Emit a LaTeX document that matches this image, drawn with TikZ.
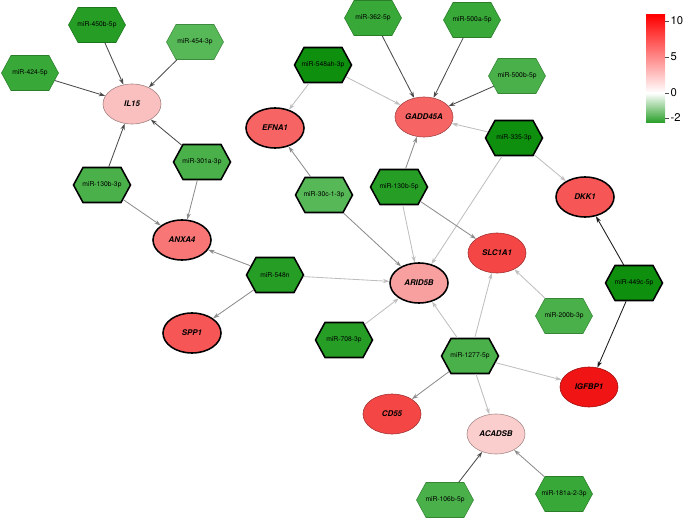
\documentclass[tikz,border=0pt]{standalone}
\usepackage{fontspec}
\setmainfont{TeX Gyre Heros}
\usepackage{xcolor}
\definecolor{mirlight}{RGB}{86,184,86}
\definecolor{mirpale}{RGB}{74,177,74}
\definecolor{mirmid}{RGB}{56,168,56}
\definecolor{mirgreen}{RGB}{38,158,38}
\definecolor{mirdark}{RGB}{14,143,14}
\definecolor{genepale}{RGB}{251,206,206}
\definecolor{genepink}{RGB}{250,192,192}
\definecolor{generose}{RGB}{248,160,160}
\definecolor{genesalmon}{RGB}{248,118,118}
\definecolor{genecoral}{RGB}{247,100,100}
\definecolor{genered}{RGB}{246,86,86}
\definecolor{genedeep}{RGB}{245,70,70}
\definecolor{genefull}{RGB}{240,20,20}
\definecolor{edgeblack}{RGB}{25,25,25}
\definecolor{edgedark}{RGB}{75,75,75}
\definecolor{edgemid}{RGB}{140,140,140}
\definecolor{edgelight}{RGB}{190,190,190}
\usepackage{tikz}
\usetikzlibrary{arrows.meta, shapes.geometric, shapes.symbols}

\begin{document}
\begin{tikzpicture}[x=0.025cm, y=-0.025cm,
  hex/.style={signal, signal to=east and west, signal pointer angle=123,
    minimum width=1.425cm, minimum height=0.875cm, inner xsep=-5pt, inner ysep=1pt,
    font=\fontsize{4.8}{5}\selectfont, fill=#1, draw=#1!75!black, line width=0.4pt},
  hexbold/.style={hex=#1, draw=black, line width=1.1pt},
  gene/.style={ellipse, minimum width=1.45cm, minimum height=1.0cm, inner sep=1pt,
    font=\fontsize{5.6}{6}\selectfont\bfseries\itshape, fill=#1, draw=#1!65!black, line width=0.4pt},
  genebold/.style={gene=#1, draw=black, line width=1.1pt},
  link/.style={-{Stealth[length=4.5pt,width=3pt]}, line width=0.6pt, draw=#1}]

  \useasboundingbox (0,0) rectangle (685,519);

  % --- Genes ---
  \node[gene=genepink]       (il15)    at (132,104) {IL15};
  \node[genebold=genecoral]  (efna1)   at (275,128) {EFNA1};
  \node[gene=genecoral]      (gadd45a) at (424,117) {GADD45A};
  \node[genebold=genesalmon] (anxa4)   at (182,240) {ANXA4};
  \node[genebold=genered]    (spp1)    at (192,333) {SPP1};
  \node[genebold=generose]   (arid5b)  at (419,283) {ARID5B};
  \node[genebold=genered]    (dkk1)    at (585,197) {DKK1};
  \node[gene=genedeep]       (slc1a1)  at (497,253) {SLC1A1};
  \node[gene=genefull]       (igfbp1)  at (589,387) {IGFBP1};
  \node[gene=genedeep]       (cd55)    at (392,414) {CD55};
  \node[gene=genepale]       (acadsb)  at (496,434) {ACADSB};

  % --- miRNAs ---
  \node[hex=mirgreen]      (m450b)  at (97,25)   {miR-450b-5p};
  \node[hex=mirlight]      (m454)   at (195,42)  {miR-454-3p};
  \node[hex=mirmid]        (m424)   at (30,73)   {miR-424-5p};
  \node[hexbold=mirpale]   (m301a)  at (202,162) {miR-301a-3p};
  \node[hexbold=mirpale]   (m130b3) at (102,185) {miR-130b-3p};
  \node[hexbold=mirdark]   (m548ah) at (323,65)  {miR-548ah-3p};
  \node[hex=mirmid]        (m362)   at (373,18)  {miR-362-5p};
  \node[hex=mirmid]        (m500a)  at (472,20)  {miR-500a-5p};
  \node[hex=mirpale]       (m500b)  at (517,76)  {miR-500b-5p};
  \node[hexbold=mirdark]   (m335)   at (514,138) {miR-335-3p};
  \node[hexbold=mirlight]  (m30c)   at (324,195) {miR-30c-1-3p};
  \node[hexbold=mirgreen]  (m130b5) at (399,187) {miR-130b-5p};
  \node[hexbold=mirgreen]  (m548n)  at (275,275) {miR-548n};
  \node[hexbold=mirgreen]  (m708)   at (344,340) {miR-708-3p};
  \node[hexbold=mirdark]   (m449c)  at (634,283) {miR-449c-5p};
  \node[hex=mirpale]       (m200b)  at (564,316) {miR-200b-3p};
  \node[hexbold=mirpale]   (m1277)  at (470,356) {miR-1277-5p};
  \node[hex=mirmid]        (m181a)  at (564,494) {miR-181a-2-3p};
  \node[hex=mirpale]       (m106b)  at (445,500) {miR-106b-5p};

  % --- Targets ---
  \draw[link=edgedark] (m450b) -- (il15);
  \draw[link=edgedark] (m454) -- (il15);
  \draw[link=edgedark] (m424) -- (il15);
  \draw[link=edgedark] (m130b3) -- (il15);
  \draw[link=edgedark] (m301a) -- (il15);
  \draw[link=edgemid] (m130b3) -- (anxa4);
  \draw[link=edgemid] (m301a) -- (anxa4);
  \draw[link=edgemid] (m548n) -- (anxa4);
  \draw[link=edgemid] (m548n) -- (spp1);
  \draw[link=edgelight] (m548n) -- (arid5b);
  \draw[link=edgelight] (m548ah) -- (efna1);
  \draw[link=edgelight] (m548ah) -- (gadd45a);
  \draw[link=edgemid] (m30c) -- (efna1);
  \draw[link=edgemid] (m30c) -- (arid5b);
  \draw[link=edgedark] (m362) -- (gadd45a);
  \draw[link=edgedark] (m500a) -- (gadd45a);
  \draw[link=edgedark] (m500b) -- (gadd45a);
  \draw[link=edgelight] (m335) -- (gadd45a);
  \draw[link=edgelight] (m335) -- (dkk1);
  \draw[link=edgelight] (m335) -- (arid5b);
  \draw[link=edgemid] (m130b5) -- (gadd45a);
  \draw[link=edgelight] (m130b5) -- (arid5b);
  \draw[link=edgemid] (m130b5) -- (slc1a1);
  \draw[link=edgelight] (m708) -- (arid5b);
  \draw[link=edgelight] (m1277) -- (arid5b);
  \draw[link=edgelight] (m1277) -- (slc1a1);
  \draw[link=edgemid] (m1277) -- (cd55);
  \draw[link=edgelight] (m1277) -- (igfbp1);
  \draw[link=edgelight] (m1277) -- (acadsb);
  \draw[link=edgelight] (m200b) -- (slc1a1);
  \draw[link=edgeblack] (m449c) -- (dkk1);
  \draw[link=edgeblack] (m449c) -- (igfbp1);
  \draw[link=edgedark] (m106b) -- (acadsb);
  \draw[link=edgemid] (m181a) -- (acadsb);

  % --- Colour scale ---
  \shade[top color=red, bottom color=white] (646,15) rectangle (665,93);
  \shade[top color=white, bottom color=mirgreen] (646,93) rectangle (665,123);
  \foreach \yy/\lab in {21/10, 57/5, 93/0, 118/-2} {
    \draw[black!70, line width=0.5pt] (665,\yy) -- (669,\yy);
    \node[font=\fontsize{8}{9}\selectfont, anchor=west, inner sep=1pt] (tick\yy) at (669,\yy) {\lab};
  }
\end{tikzpicture}
\end{document}
